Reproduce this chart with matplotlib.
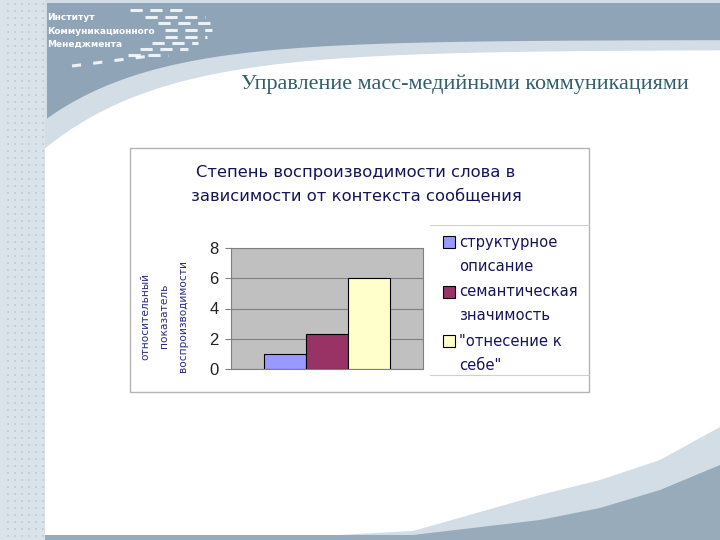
import matplotlib
matplotlib.use("Agg")
import matplotlib.pyplot as plt
import numpy as np
from matplotlib.patches import Rectangle, Polygon

# chart data
categories = ['структурное\nописание', 'семантическая\nзначимость', '"отнесение к\nсебе"']
values = [1.0, 2.3, 6.0]
bar_colors = ['#9999ff', '#993366', '#ffffcc']
yticks = [0, 2, 4, 6, 8]
chart_title = ['Степень воспроизводимости слова в', 'зависимости от контекста сообщения']
ylabel_lines = ['относительный', 'показатель', 'воспроизводимости']
slide_title = 'Управление масс-медийными коммуникациями'
logo_lines = ['Институт', 'Коммуникационного', 'Менеджмента']

W, H = 720, 540
fig = plt.figure(figsize=(7.2, 5.4), dpi=100)
fig.patch.set_facecolor('white')

# background axes in pixel coords
bg = fig.add_axes([0, 0, 1, 1])
bg.set_xlim(0, W)
bg.set_ylim(H, 0)
bg.axis('off')

dark = '#8fa4b6'
light = '#d3dde6'

# top band
xs = np.linspace(0, W, 200)
y_white = 50 + 80 * np.exp(-(xs - 70) / 120)
bg.add_patch(Polygon(np.column_stack([np.r_[xs, xs[::-1]], np.r_[np.zeros_like(xs), y_white[::-1]]]),
                     closed=True, color=light, lw=0))
xd = xs[xs >= 45]
yd = 40 + 80 * np.exp(-(xd - 45) / 110)
bg.add_patch(Polygon(np.column_stack([np.r_[xd, xd[::-1]], np.r_[np.full_like(xd, 3), yd[::-1]]]),
                     closed=True, color=dark, lw=0))

# bottom swoosh
lx = [90, 300, 413, 540, 600, 660, 720]
ly = [540, 537, 531, 495, 480, 460, 427]
dx = [230, 413, 540, 600, 660, 720]
dy = [538, 535, 520, 508, 490, 465]
xb = np.linspace(90, W, 150)
bg.add_patch(Polygon(np.column_stack([np.r_[xb, W, 90], np.r_[np.interp(xb, lx, ly), H, H]]),
                     closed=True, color=light, lw=0))
xb2 = np.linspace(230, W, 150)
bg.add_patch(Polygon(np.column_stack([np.r_[xb2, W, 230], np.r_[np.interp(xb2, dx, dy), H, H]]),
                     closed=True, color='#97abbb', lw=0))
bg.add_patch(Rectangle((45, 535), W - 45, 5, color='#97abbb', lw=0))

# left dotted strip
bg.add_patch(Rectangle((0, 0), 45, H, color='#dae2ea', lw=0))
gx, gy = np.meshgrid([8, 15, 22, 29, 36, 43], np.arange(4, H, 7))
bg.scatter(gx.ravel(), gy.ravel(), s=3, marker='s', color='#c3cfdb', lw=0)

# logo dashes - rows of short white dashes making a ")" shape
rows = [(10, 130, 185), (17, 145, 205), (23, 158, 210), (30, 165, 212),
        (37, 165, 207), (43, 152, 198), (49, 140, 188), (55, 128, 168)]
for y, x0, x1 in rows:
    bg.plot([x0, x1], [y, y], color='white', lw=2.2, ls=(0, (4, 2.5)), alpha=0.85)
bg.plot([72, 150], [66, 56], color='white', lw=2.2, ls=(0, (3, 4)), alpha=0.85)
for i, s in enumerate(logo_lines):
    bg.text(47, 18 + i * 13, s, color='white', fontsize=6.5, fontweight='bold',
            va='center', ha='left')

bg.text(241, 84, slide_title, family='Liberation Serif', fontsize=15.9,
        color='#2f5e6c', va='center', ha='left')

# chart frame
bg.add_patch(Rectangle((130, 148), 459, 244, facecolor='white', edgecolor='#b4b4b4', lw=1))
navy = '#14145a'
for i, s in enumerate(chart_title):
    bg.text(356, 172 + i * 25, s, fontsize=11.8, color=navy, ha='center', va='center')
for x, s in zip([145, 164, 183], ylabel_lines):
    bg.text(x, 316, s, fontsize=7.6, color='#2a2a80', rotation=90, ha='center', va='center')

# legend
bg.plot([430, 589], [225, 225], color='#d0d0d0', lw=0.8)
bg.plot([430, 589], [375, 375], color='#d0d0d0', lw=0.8)
for i, (lab, c) in enumerate(zip(categories, bar_colors)):
    y0 = 242 + i * 49.5
    bg.add_patch(Rectangle((443, y0 - 6), 12, 12, facecolor=c, edgecolor='black', lw=0.8))
    for j, part in enumerate(lab.split('\n')):
        bg.text(459, y0 + j * 24.5, part, fontsize=10.6, color=navy, ha='left', va='center')

# plot area
ax = fig.add_axes([231 / W, (H - 369) / H, 192 / W, 121 / H])
ax.set_facecolor('#c0c0c0')
bw = 42 / 192
pos = 0.5 + (np.arange(len(values)) - 1) * bw
ax.bar(pos, values, width=bw, color=bar_colors, edgecolor='black', linewidth=0.8, zorder=3)
ax.set_xlim(0, 1)
ax.set_ylim(0, 8)
ax.set_yticks(yticks)
ax.set_xticks([])
ax.yaxis.grid(True, color='#808080', lw=0.8, zorder=0)
ax.tick_params(axis='y', length=4, pad=5, labelsize=12, color='#808080', labelcolor='#222222')
for sp in ax.spines.values():
    sp.set_color('#808080')
    sp.set_linewidth(0.8)
for t in ax.get_yticklabels():
    t.set_family('Liberation Sans')

fig.savefig('out.png', dpi=100)
